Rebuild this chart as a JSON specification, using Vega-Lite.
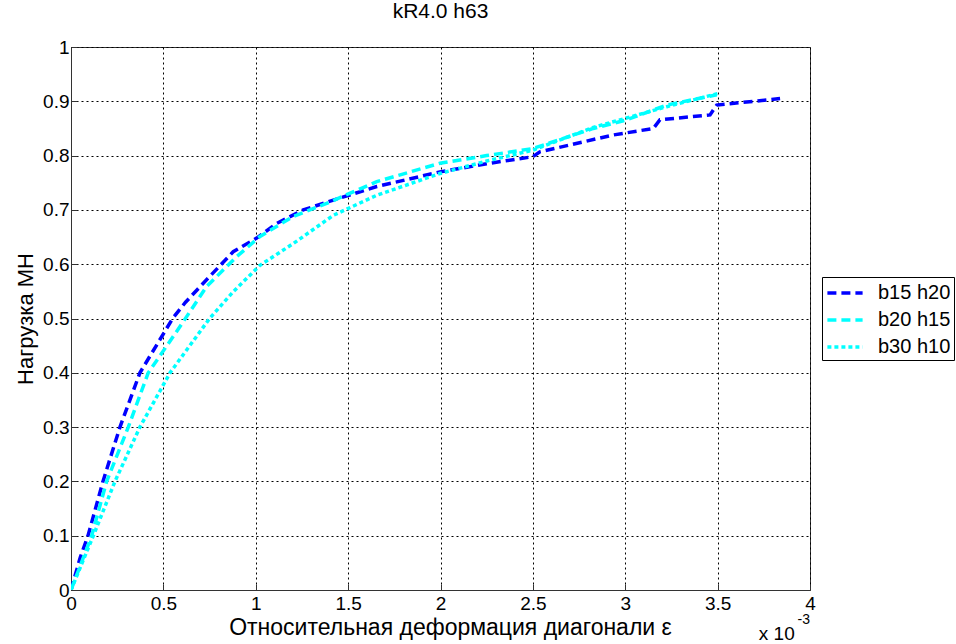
{
  "$schema": "https://vega.github.io/schema/vega-lite/v6.json",
  "autosize": "none",
  "width": 739,
  "height": 543,
  "padding": {"left": 71, "top": 47, "right": 146, "bottom": 54},
  "background": "white",
  "config": {
    "font": "Liberation Sans",
    "view": {"stroke": "#333333", "strokeWidth": 1}
  },
  "title": {"text": "kR4.0 h63", "fontSize": 21, "fontWeight": "normal", "color": "black", "font": "Liberation Sans", "offset": 16},
  "datasets": {
    "curves": [
      {"series": "b15 h20", "eps": 0, "load": 0},
      {"series": "b15 h20", "eps": 0.05, "load": 0.06},
      {"series": "b15 h20", "eps": 0.092, "load": 0.1},
      {"series": "b15 h20", "eps": 0.173, "load": 0.2},
      {"series": "b15 h20", "eps": 0.265, "load": 0.3},
      {"series": "b15 h20", "eps": 0.373, "load": 0.4},
      {"series": "b15 h20", "eps": 0.55, "load": 0.5},
      {"series": "b15 h20", "eps": 0.62, "load": 0.53},
      {"series": "b15 h20", "eps": 0.716, "load": 0.565},
      {"series": "b15 h20", "eps": 0.8, "load": 0.595},
      {"series": "b15 h20", "eps": 0.878, "load": 0.623},
      {"series": "b15 h20", "eps": 1.005, "load": 0.648},
      {"series": "b15 h20", "eps": 1.113, "load": 0.675},
      {"series": "b15 h20", "eps": 1.257, "load": 0.7},
      {"series": "b15 h20", "eps": 1.42, "load": 0.718},
      {"series": "b15 h20", "eps": 1.655, "load": 0.743},
      {"series": "b15 h20", "eps": 1.997, "load": 0.77},
      {"series": "b15 h20", "eps": 2.25, "load": 0.785},
      {"series": "b15 h20", "eps": 2.5, "load": 0.798},
      {"series": "b15 h20", "eps": 2.538, "load": 0.807},
      {"series": "b15 h20", "eps": 2.935, "load": 0.838},
      {"series": "b15 h20", "eps": 3.152, "load": 0.85},
      {"series": "b15 h20", "eps": 3.188, "load": 0.866},
      {"series": "b15 h20", "eps": 3.459, "load": 0.875},
      {"series": "b15 h20", "eps": 3.495, "load": 0.893},
      {"series": "b15 h20", "eps": 3.838, "load": 0.905},
      {"series": "b20 h15", "eps": 0, "load": 0},
      {"series": "b20 h15", "eps": 0.112, "load": 0.1},
      {"series": "b20 h15", "eps": 0.193, "load": 0.2},
      {"series": "b20 h15", "eps": 0.31, "load": 0.3},
      {"series": "b20 h15", "eps": 0.418, "load": 0.4},
      {"series": "b20 h15", "eps": 0.58, "load": 0.48},
      {"series": "b20 h15", "eps": 0.734, "load": 0.559},
      {"series": "b20 h15", "eps": 0.897, "load": 0.614},
      {"series": "b20 h15", "eps": 1.023, "load": 0.651},
      {"series": "b20 h15", "eps": 1.203, "load": 0.688},
      {"series": "b20 h15", "eps": 1.384, "load": 0.712},
      {"series": "b20 h15", "eps": 1.655, "load": 0.752},
      {"series": "b20 h15", "eps": 1.997, "load": 0.786},
      {"series": "b20 h15", "eps": 2.25, "load": 0.8},
      {"series": "b20 h15", "eps": 2.5, "load": 0.813},
      {"series": "b20 h15", "eps": 2.827, "load": 0.85},
      {"series": "b20 h15", "eps": 3.0, "load": 0.865},
      {"series": "b20 h15", "eps": 3.224, "load": 0.893},
      {"series": "b20 h15", "eps": 3.495, "load": 0.912},
      {"series": "b30 h10", "eps": 0, "load": 0},
      {"series": "b30 h10", "eps": 0.121, "load": 0.1},
      {"series": "b30 h10", "eps": 0.238, "load": 0.2},
      {"series": "b30 h10", "eps": 0.373, "load": 0.3},
      {"series": "b30 h10", "eps": 0.536, "load": 0.4},
      {"series": "b30 h10", "eps": 0.75, "load": 0.5},
      {"series": "b30 h10", "eps": 0.88, "load": 0.55},
      {"series": "b30 h10", "eps": 1.023, "load": 0.598},
      {"series": "b30 h10", "eps": 1.203, "load": 0.638},
      {"series": "b30 h10", "eps": 1.42, "load": 0.69},
      {"series": "b30 h10", "eps": 1.655, "load": 0.727},
      {"series": "b30 h10", "eps": 1.997, "load": 0.767},
      {"series": "b30 h10", "eps": 2.25, "load": 0.79},
      {"series": "b30 h10", "eps": 2.5, "load": 0.81},
      {"series": "b30 h10", "eps": 2.827, "load": 0.852},
      {"series": "b30 h10", "eps": 3.224, "load": 0.89},
      {"series": "b30 h10", "eps": 3.51, "load": 0.915}
    ],
    "note": [{"eps": 3.82, "load": 0}]
  },
  "layer": [
    {
      "data": {"name": "curves"},
      "mark": {"type": "line", "strokeWidth": 3.5, "clip": true},
      "encoding": {
        "x": {
          "field": "eps", "type": "quantitative",
          "scale": {"domain": [0, 4], "nice": false},
          "axis": {
            "title": "Относительная деформация диагонали ε",
            "titleFontSize": 23, "titleFontWeight": "normal", "titleColor": "black", "titlePadding": 3,
            "titleX": 379,
            "values": [0, 0.5, 1, 1.5, 2, 2.5, 3, 3.5, 4], "format": "~g",
            "labelFontSize": 19, "labelColor": "black", "labelPadding": 10,
            "labelFlush": false,
            "grid": true, "gridColor": "black", "gridDash": [2, 3], "gridOpacity": 1, "gridWidth": 1,
            "domainColor": "#333333", "tickColor": "#333333", "tickSize": -6
          }
        },
        "y": {
          "field": "load", "type": "quantitative",
          "scale": {"domain": [0, 1], "nice": false},
          "axis": {
            "title": "Нагрузка МН",
            "titleFontSize": 22, "titleFontWeight": "normal", "titleColor": "black", "titlePadding": 5,
            "values": [0, 0.1, 0.2, 0.3, 0.4, 0.5, 0.6, 0.7, 0.8, 0.9, 1], "format": "~g",
            "labelFontSize": 19, "labelColor": "black", "labelPadding": 8,
            "labelFlush": false,
            "grid": true, "gridColor": "black", "gridDash": [2, 3], "gridOpacity": 1, "gridWidth": 1,
            "domainColor": "#333333", "tickColor": "#333333", "tickSize": -6
          }
        },
        "color": {
          "field": "series", "type": "nominal",
          "scale": {"domain": ["b15 h20", "b20 h15", "b30 h10"], "range": ["#0000FF", "#00FFFF", "#00FFFF"]},
          "legend": {
            "title": null, "orient": "none", "legendX": 751, "legendY": 230,
            "labelFontSize": 20, "labelColor": "black", "symbolType": "M-1.6,0H1.6",
            "symbolStrokeWidth": 3.5, "symbolSize": 484, "symbolOffset": 7,
            "strokeColor": "black", "fillColor": "white", "padding": 3,
            "rowPadding": 4, "labelOffset": 20
          }
        },
        "strokeDash": {
          "field": "series", "type": "nominal",
          "scale": {"domain": ["b15 h20", "b20 h15", "b30 h10"], "range": [[9, 5], [9, 5], [4, 3]]},
          "legend": {
            "title": null, "orient": "none", "legendX": 751, "legendY": 230,
            "labelFontSize": 20, "labelColor": "black", "symbolType": "M-1.6,0H1.6",
            "symbolStrokeWidth": 3.5, "symbolSize": 484, "symbolOffset": 7,
            "strokeColor": "black", "fillColor": "white", "padding": 3,
            "rowPadding": 4, "labelOffset": 20
          }
        },
        "order": {"field": "eps", "type": "quantitative"}
      }
    },
    {
      "data": {"name": "note"},
      "mark": {"type": "text", "text": "x 10", "fontSize": 19, "color": "black", "dy": 44, "align": "center", "clip": false},
      "encoding": {
        "x": {"field": "eps", "type": "quantitative"},
        "y": {"field": "load", "type": "quantitative"}
      }
    },
    {
      "data": {"name": "note"},
      "mark": {"type": "text", "text": "-3", "fontSize": 14, "color": "black", "dy": 30, "dx": 27, "align": "center", "clip": false},
      "encoding": {
        "x": {"field": "eps", "type": "quantitative"},
        "y": {"field": "load", "type": "quantitative"}
      }
    }
  ]
}
